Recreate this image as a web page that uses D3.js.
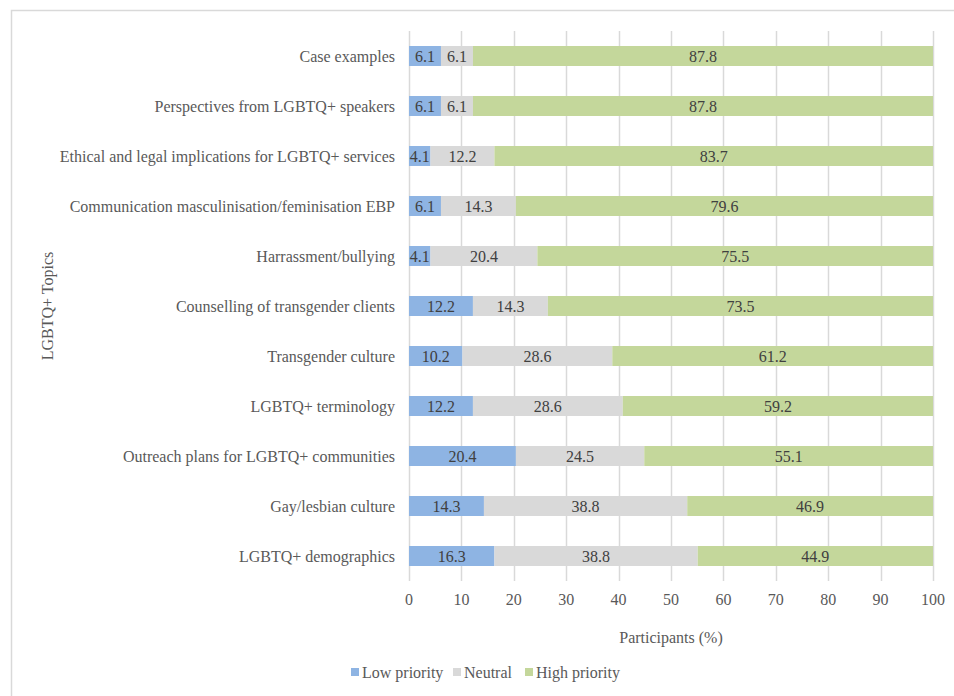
<!DOCTYPE html>
<html><head><meta charset="utf-8">
<script src="https://cdn.jsdelivr.net/npm/d3@7"></script>
<style>body{margin:0;background:#fff}svg{display:block}</style>
</head><body>
<script>
const categories = ["Case examples","Perspectives from LGBTQ+ speakers","Ethical and legal implications for LGBTQ+ services","Communication masculinisation/feminisation EBP","Harrassment/bullying","Counselling of transgender clients","Transgender culture","LGBTQ+ terminology","Outreach plans for LGBTQ+ communities","Gay/lesbian culture","LGBTQ+ demographics"];
const lowPriority = [6.1,6.1,4.1,6.1,4.1,12.2,10.2,12.2,20.4,14.3,16.3];
const neutral = [6.1,6.1,12.2,14.3,20.4,14.3,28.6,28.6,24.5,38.8,38.8];
const highPriority = [87.8,87.8,83.7,79.6,75.5,73.5,61.2,59.2,55.1,46.9,44.9];
const seriesNames = ["Low priority","Neutral","High priority"];
const xTicks = [0,10,20,30,40,50,60,70,80,90,100];
const colors = ["#8EB4E3","#D9D9D9","#C4D79B"];

const W=954,H=696;
const font='"Liberation Serif","Times New Roman",serif';
const fs=16;
const svg=d3.select("body").append("svg").attr("width",W).attr("height",H).style("font-family",font);
svg.append("rect").attr("x",11.5).attr("y",10.5).attr("width",W+20).attr("height",H+20).attr("fill","#fff").attr("stroke","#d9d9d9").attr("stroke-width",1.5);

const x=d3.scaleLinear().domain([0,100]).range([409,933]);
const y=d3.scaleBand().domain(categories).range([31,581]).paddingInner(0.6).paddingOuter(0.3);

svg.append("g").selectAll("line").data(xTicks).join("line")
 .attr("x1",d=>Math.round(x(d))+0.5).attr("x2",d=>Math.round(x(d))+0.5)
 .attr("y1",31).attr("y2",581).attr("stroke","#d9d9d9").attr("stroke-width",1.5);

const table=categories.map((c,i)=>({cat:c,vals:[lowPriority[i],neutral[i],highPriority[i]]}));
const stack=[];
table.forEach(r=>{let acc=0;r.vals.forEach((v,k)=>{stack.push({cat:r.cat,k,v,x0:acc,x1:acc+v});acc+=v;});});

svg.append("g").selectAll("rect").data(stack).join("rect")
 .attr("x",d=>x(d.x0)).attr("width",d=>x(d.x1)-x(d.x0))
 .attr("y",d=>y(d.cat)).attr("height",y.bandwidth()).attr("fill",d=>colors[d.k]);

svg.append("g").selectAll("text").data(stack).join("text")
 .attr("x",d=>(x(d.x0)+x(d.x1))/2).attr("y",d=>y(d.cat)+y.bandwidth()/2)
 .attr("dy","0.35em").attr("text-anchor","middle").attr("font-size",fs).attr("fill","#404040")
 .text(d=>d.v.toFixed(1));

svg.append("g").selectAll("text").data(categories).join("text")
 .attr("x",395).attr("y",d=>y(d)+y.bandwidth()/2).attr("dy","0.35em")
 .attr("text-anchor","end").attr("font-size",fs).attr("fill","#595959").text(d=>d);

svg.append("g").selectAll("text").data(xTicks).join("text")
 .attr("x",d=>x(d)).attr("y",599).attr("dy","0.35em").attr("text-anchor","middle")
 .attr("font-size",fs).attr("fill","#595959").text(d=>d);

svg.append("text").attr("x",671).attr("y",637).attr("dy","0.35em").attr("text-anchor","middle")
 .attr("font-size",fs).attr("fill","#595959").text("Participants (%)");

svg.append("text").attr("transform","translate(47,306) rotate(-90)").attr("dy","0.35em")
 .attr("text-anchor","middle").attr("font-size",fs).attr("fill","#595959").text("LGBTQ+ Topics");

const legX=[351,453,525];
const lg=svg.append("g").selectAll("g").data(seriesNames).join("g")
 .attr("transform",(d,i)=>`translate(${legX[i]},672)`);
lg.append("rect").attr("x",0).attr("y",-4).attr("width",8).attr("height",8).attr("fill",(d,i)=>colors[i]);
lg.append("text").attr("x",11).attr("y",0).attr("dy","0.35em").attr("font-size",fs).attr("fill","#595959").text(d=>d);
</script>
</body></html>
